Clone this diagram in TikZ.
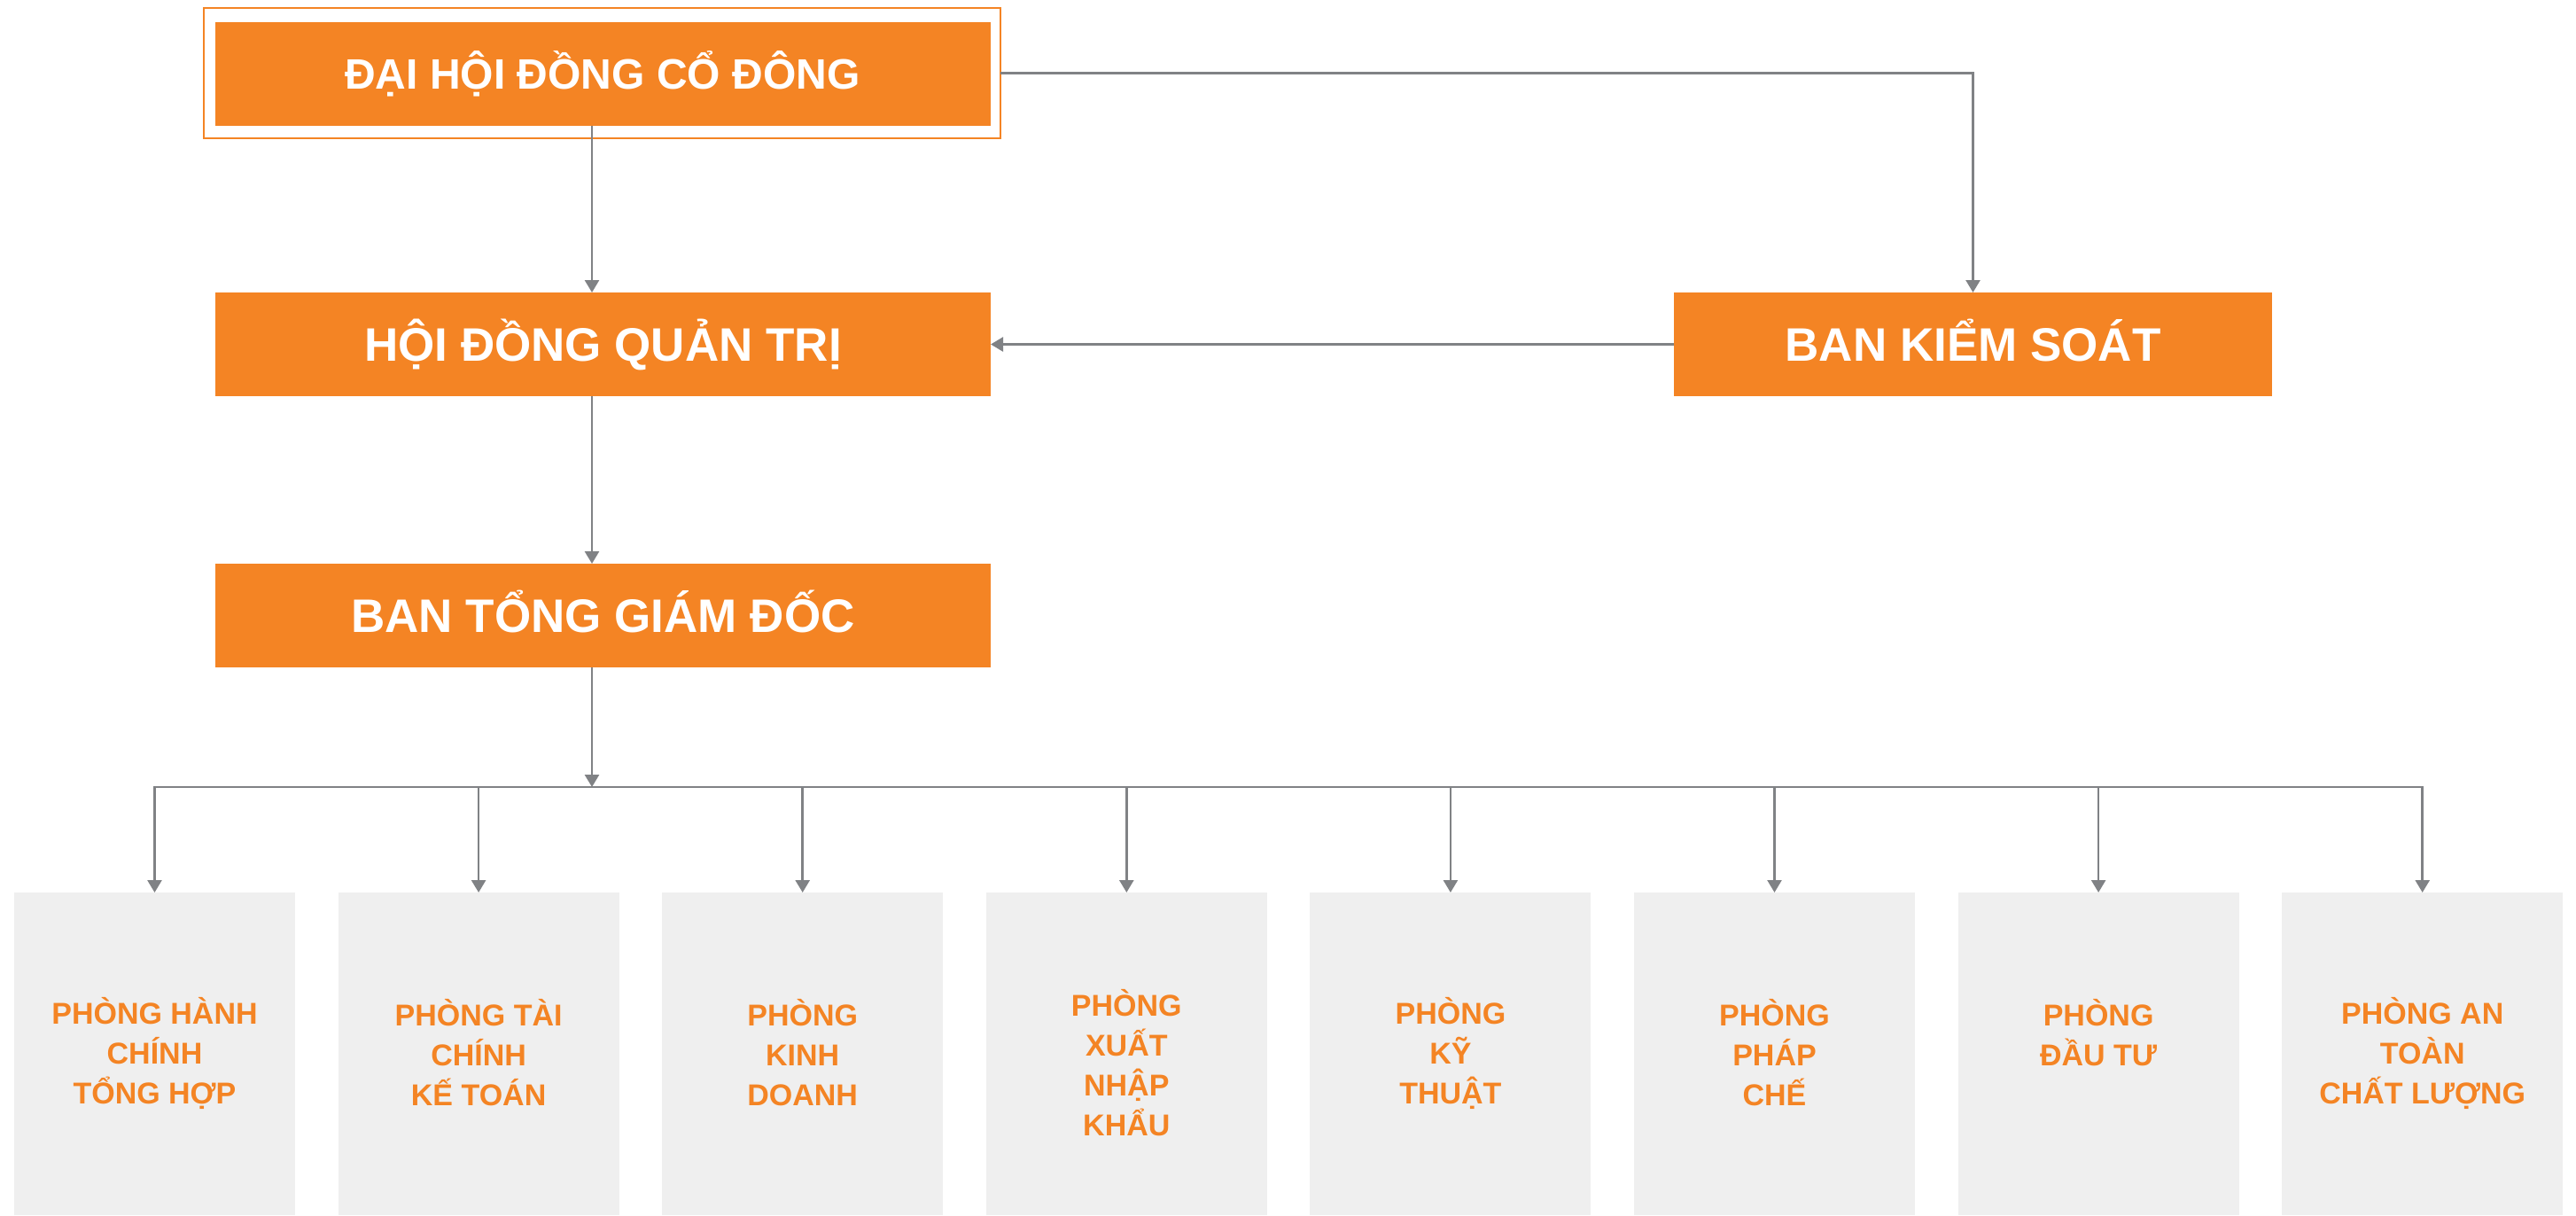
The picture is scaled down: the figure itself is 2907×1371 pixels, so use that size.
\documentclass[tikz,border=0pt]{standalone}
\usepackage{fontspec}
\setmainfont{Liberation Sans}
\usetikzlibrary{arrows.meta}
\definecolor{org}{HTML}{F48424}
\definecolor{lgray}{HTML}{EFEFEF}
\definecolor{lnk}{HTML}{808285}
\begin{document}
\begin{tikzpicture}[x=0.5pt,y=-0.5pt,
  head/.style={fill=org, text=white, inner sep=0pt, outer sep=0pt,
    font=\bfseries\fontsize{26.5}{30}\selectfont, text height=19pt, text depth=0pt,
    minimum width=437.5pt, minimum height=58.5pt},
  dept/.style={fill=lgray, inner sep=0pt, outer sep=0pt, anchor=north west,
    minimum width=158.5pt, minimum height=182pt},
  deptlabel/.style={text=org, inner sep=0pt, align=center,
    font=\bfseries\fontsize{17}{22.5}\selectfont},
  link/.style={draw=lnk, line width=1.3pt},
  conn/.style={link, -{Triangle[length=7pt,width=8pt]}}
]
\useasboundingbox (0,0) rectangle (2907,1371);

% top box with frame
\node[draw=org, line width=1pt, inner sep=0pt, outer sep=0pt,
      minimum width=449.5pt, minimum height=73.5pt] (dhf) at (679.5,82.5) {};
\node[head, font=\bfseries\fontsize{24}{28}\selectfont, text height=17.2pt] (dh) at (680,83) {ĐẠI HỘI ĐỒNG CỔ ĐÔNG};

\node[head] (hd) at (680.5,388.5) {HỘI ĐỒNG QUẢN TRỊ};
\node[head, minimum width=337.5pt] (bks) at (2226.5,388.5) {BAN KIỂM SOÁT};
\node[head] (tg) at (680.5,694.5) {BAN TỔNG GIÁM ĐỐC};

\coordinate (spine) at (668,0);
\coordinate (bus) at (0,888);

% departments
\foreach \i/\lbl/\yy in {
  1/{PHÒNG HÀNH\\CHÍNH\\TỔNG HỢP}/1188,
  2/{PHÒNG TÀI\\CHÍNH\\KẾ TOÁN}/1188,
  3/{PHÒNG\\KINH\\DOANH}/1188,
  4/{PHÒNG\\XUẤT\\NHẬP\\KHẨU}/1199,
  5/{PHÒNG\\KỸ\\THUẬT}/1188,
  6/{PHÒNG\\PHÁP\\CHẾ}/1188,
  7/{PHÒNG\\ĐẦU TƯ}/1165,
  8/{PHÒNG AN\\TOÀN\\CHẤT LƯỢNG}/1188}{
  \node[dept] (p\i) at ({16+365.6*(\i-1)},1007) {};
  \node[deptlabel] (l\i) at ({174.5+365.6*(\i-1)},\yy) {\lbl};
}

% connectors
\draw[conn] (dh.south -| spine) -- (hd.north -| spine);
\draw[conn] (dhf.east) -| (bks.north);
\draw[conn] (bks.west) -- (hd.east);
\draw[conn] (hd.south -| spine) -- (tg.north -| spine);
\draw[conn] (tg.south -| spine) -- (bus -| spine);
\draw[link, line cap=rect] (p1.north |- bus) -- (p8.north |- bus);
\foreach \i in {1,...,8}{
  \draw[conn] (p\i.north |- bus) -- (p\i.north);
}
\end{tikzpicture}
\end{document}
